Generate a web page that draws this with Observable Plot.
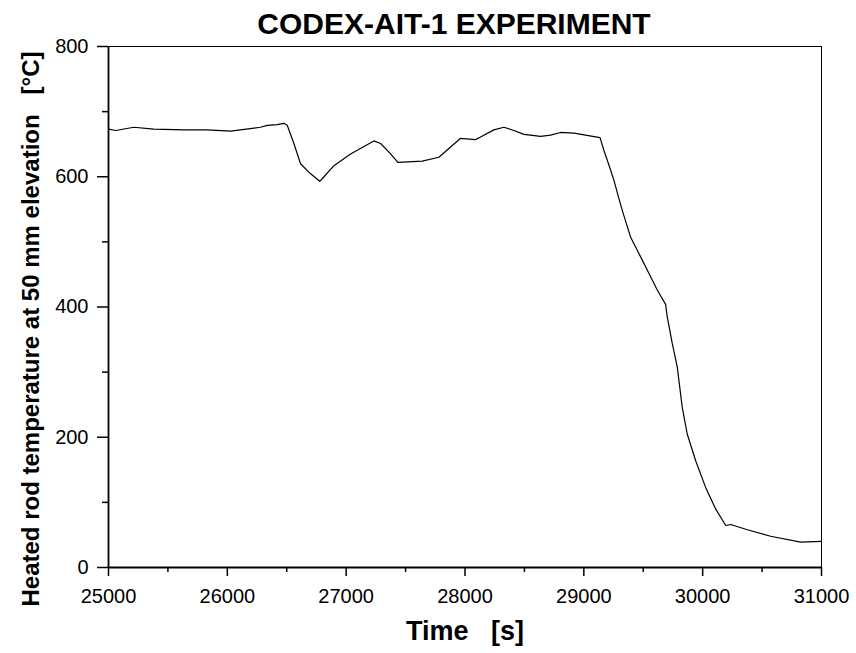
<!DOCTYPE html>
<html>
<head>
<meta charset="utf-8">
<script src="https://cdn.jsdelivr.net/npm/d3@7"></script>
<script src="https://cdn.jsdelivr.net/npm/@observablehq/plot@0.6"></script>
<style>
  html, body { margin: 0; padding: 0; background: #fff; }
</style>
</head>
<body>
<div id="chart"></div>
<script>
const titleText = "CODEX-AIT-1 EXPERIMENT";
const xLabel = "Time\u00A0\u00A0\u00A0[s]";
const yLabel = "Heated rod temperature at 50 mm elevation\u00A0\u00A0\u00A0[°C]";

const time = [25000, 25060, 25213, 25381, 25634, 25830, 26027, 26279, 26336, 26420, 26476, 26504,
  26560, 26616, 26686, 26778, 26813, 26897, 27037, 27233, 27290, 27374, 27435, 27640, 27780,
  27963, 28089, 28131, 28243, 28327, 28412, 28496, 28636, 28720, 28805, 28917, 29136, 29170,
  29226, 29254, 29296, 29324, 29394, 29478, 29618, 29688, 29702, 29744, 29786, 29805, 29828,
  29870, 29941, 30025, 30109, 30194, 30236, 30376, 30572, 30825, 31000];
const temperature = [673, 671, 676, 673, 672, 672, 670, 676, 679, 680, 682, 679,
  651, 620, 607, 593, 600, 617, 635, 655, 651, 635, 622, 624, 630,
  659, 657, 661, 672, 676, 671, 665, 662, 664, 668, 667, 660, 640,
  610, 594, 566, 548, 507, 477, 426, 404, 385, 344, 308, 280, 246,
  205, 164, 123, 90, 64.5, 66, 58, 48, 39, 40];

const xMajorTicks = [25000, 26000, 27000, 28000, 29000, 30000, 31000];
const xMinorTicks = [25500, 26500, 27500, 28500, 29500, 30500];
const yMajorTicks = [0, 200, 400, 600, 800];
const yMinorTicks = [100, 300, 500, 700];

const data = time.map((t, i) => ({t, v: temperature[i]}));

const chart = Plot.plot({
  width: 856,
  height: 653,
  marginTop: 46,
  marginBottom: 86,
  marginLeft: 108,
  marginRight: 35,
  style: {fontFamily: "'Liberation Sans', Arial, sans-serif", fontSize: "20px", background: "white", color: "black"},
  x: {domain: [25000, 31000]},
  y: {domain: [0, 800]},
  marks: [
    Plot.frame({stroke: "black", strokeWidth: 1}),
    Plot.axisX(xMajorTicks, {tickSize: 9, tickPadding: 12, strokeWidth: 1.5, label: null, tickFormat: d => String(d)}),
    Plot.axisX(xMinorTicks, {tickSize: 5, strokeWidth: 1.5, label: null, tickFormat: () => ""}),
    Plot.axisY(yMajorTicks, {tickSize: 11, tickPadding: 9, strokeWidth: 1.5, label: null, tickFormat: d => String(d)}),
    Plot.axisY(yMinorTicks, {tickSize: 6, strokeWidth: 1.5, label: null, tickFormat: () => ""}),
    Plot.ruleX([25000], {stroke: "black", strokeWidth: 1.8}),
    Plot.ruleY([0], {stroke: "black", strokeWidth: 1.8}),
    Plot.line(data, {x: "t", y: "v", stroke: "black", strokeWidth: 1.2}),
    Plot.text([titleText], {frameAnchor: "top", dx: -11, dy: -13, lineAnchor: "bottom", fontSize: 30, fontWeight: "bold", fill: "black"}),
    Plot.text([xLabel], {frameAnchor: "bottom", dy: 72, lineAnchor: "bottom", fontSize: 27, fontWeight: "bold", fill: "black"}),
    Plot.text([yLabel], {frameAnchor: "left", textAnchor: "middle", dx: -70, dy: 22, rotate: -90, lineAnchor: "bottom", fontSize: 24, fontWeight: "bold", fill: "black"})
  ]
});
document.getElementById("chart").appendChild(chart);
</script>
</body>
</html>
